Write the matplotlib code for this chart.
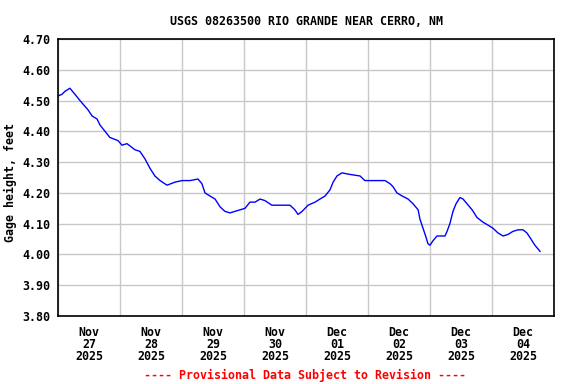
import matplotlib
matplotlib.use("Agg")
import matplotlib.pyplot as plt
import numpy as np

# hours after 2025-11-27 00:00 and gage height (ft)
hours = [0.0, 1.5, 2.7, 4.6, 6.6, 8.5, 11.6, 13.2, 15.1, 16.3, 18.2, 20.1, 23.2,
         24.8, 26.7, 29.8, 31.7, 33.7, 35.6, 37.5, 39.5, 42.2, 45.3, 48.0, 51.1,
         54.2, 55.7, 56.9, 58.8, 60.8, 62.7, 64.6, 66.6, 68.5, 70.5, 72.4, 74.3,
         76.3, 78.2, 80.1, 82.8, 85.9, 89.8, 91.7, 92.9, 94.5, 96.8, 99.5, 101.4,
         103.4, 105.3, 106.5, 108.0, 109.9, 113.0, 116.9, 118.8, 122.7, 126.6,
         128.5, 129.7, 131.2, 133.2, 135.5, 137.4, 139.4, 140.1, 141.3, 142.5,
         143.2, 144.0, 145.2, 146.7, 149.8, 150.6, 151.7, 152.9, 154.1, 155.6,
         156.8, 158.3, 160.3, 162.2, 164.5, 166.5, 168.4, 170.3, 172.3, 174.2,
         176.1, 178.1, 180.0, 181.5, 182.7, 184.6, 186.6]
gage = [4.515, 4.52, 4.53, 4.54, 4.52, 4.50, 4.47, 4.45, 4.44, 4.42, 4.40, 4.38, 4.37,
        4.355, 4.36, 4.34, 4.335, 4.31, 4.28, 4.255, 4.24, 4.225, 4.235, 4.24, 4.24,
        4.245, 4.23, 4.20, 4.19, 4.18, 4.155, 4.14, 4.135, 4.14, 4.145, 4.15, 4.17,
        4.17, 4.18, 4.175, 4.16, 4.16, 4.16, 4.145, 4.13, 4.14, 4.16, 4.17, 4.18,
        4.19, 4.21, 4.235, 4.255, 4.265, 4.26, 4.255, 4.24, 4.24, 4.24,
        4.23, 4.22, 4.20, 4.19, 4.18, 4.165, 4.145, 4.115, 4.085, 4.055,
        4.035, 4.03, 4.045, 4.06, 4.06, 4.075, 4.10, 4.14, 4.165, 4.185,
        4.18, 4.165, 4.145, 4.12, 4.105, 4.095, 4.085, 4.07, 4.06, 4.065,
        4.075, 4.08, 4.08, 4.07, 4.055, 4.03, 4.01]

day_labels = ["Nov\n27\n2025", "Nov\n28\n2025", "Nov\n29\n2025", "Nov\n30\n2025",
              "Dec\n01\n2025", "Dec\n02\n2025", "Dec\n03\n2025", "Dec\n04\n2025"]
y_ticks = [3.80, 3.90, 4.00, 4.10, 4.20, 4.30, 4.40, 4.50, 4.60, 4.70]

font = "DejaVu Sans Mono"
fs = 8.4

fig = plt.figure(figsize=(5.76, 3.84), dpi=100)
ax = fig.add_axes([58/576, 1 - 316/384, 496/576, 277/384])

ax.plot(np.array(hours) / 24.0, gage, color="#0000ff", lw=1.0)

ax.set_xlim(0, 8)
ax.set_ylim(3.80, 4.70)
ax.set_xticks(np.arange(0, 9), minor=False)
ax.set_xticklabels([])
ax.set_xticks(np.arange(8) + 0.5, minor=True)
ax.set_xticklabels(day_labels, minor=True, fontfamily=font, fontweight="bold",
                   fontsize=fs, linespacing=0.9)
ax.set_yticks(y_ticks)
ax.set_yticklabels(["%.2f" % v for v in y_ticks], fontfamily=font,
                   fontweight="bold", fontsize=fs)
ax.tick_params(axis="both", which="both", length=0)
ax.tick_params(axis="x", which="minor", pad=7.5)
ax.tick_params(axis="y", pad=5.5)
ax.grid(True, which="major", color="#c8c8c8", lw=1.0)
ax.set_axisbelow(True)
for s in ax.spines.values():
    s.set_linewidth(1.2)
    s.set_color("black")

ax.set_ylabel("Gage height, feet", fontfamily=font, fontweight="bold", fontsize=fs)
ax.yaxis.set_label_coords(-41/496, 0.482)

fig.text(306/576, 1 - 21.3/384, "USGS 08263500 RIO GRANDE NEAR CERRO, NM",
         ha="center", va="center", fontfamily=font, fontweight="bold", fontsize=fs)
fig.text(305/576, 1 - 375/384, "---- Provisional Data Subject to Revision ----",
         ha="center", va="center", fontfamily=font, fontweight="bold", fontsize=fs,
         color="red")

fig.savefig("out.png", dpi=100)
